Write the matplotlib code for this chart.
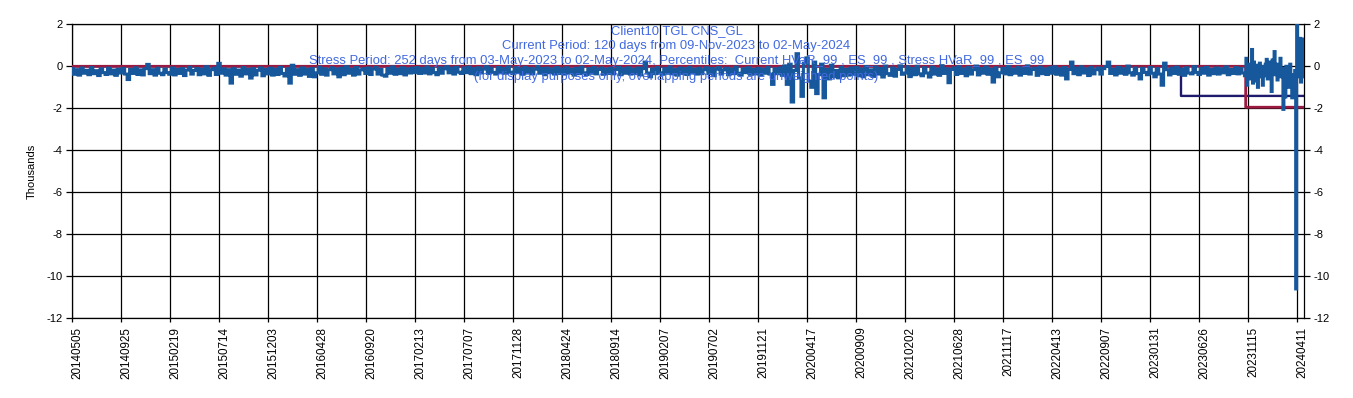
import numpy as np
import matplotlib
matplotlib.use('Agg')
import matplotlib.pyplot as plt
from matplotlib.transforms import ScaledTranslation

plt.rcParams['font.family'] = ['Liberation Sans', 'DejaVu Sans']
plt.rcParams['axes.unicode_minus'] = False

# ---------------- data ----------------
tick_labels = ['20140505', '20140925', '20150219', '20150714', '20151203', '20160428',
               '20160920', '20170213', '20170707', '20171128', '20180424', '20180914',
               '20190207', '20190702', '20191121', '20200417', '20200909', '20210202',
               '20210628', '20211117', '20220413', '20220907', '20230131', '20230626',
               '20231115', '20240411']
n_obs = 2515          # daily observations
tick_every = 100      # one category label every 100 observations

current_days = 120
stress_days = 252
current_hvar = -1.95  # thousands
stress_hvar = -1.41   # thousands

# daily P&L (thousands), sampled every 5th observation, 2014-05 .. 2016-09
pnl_2014_2016 = [
    -0.10, -0.38, -0.16, -0.42, -0.08, -0.33, -0.19, -0.40, -0.06, -0.35, -0.21, -0.44, -0.12, -0.30, -0.39, -0.09, -0.36, -0.18, -0.43, -0.14,
    -0.32, -0.10, -0.37, -0.63, -0.15, -0.34, -0.07, -0.39, -0.17, -0.41, -0.11, 0.09, -0.35, -0.16, -0.42, -0.09, -0.33, -0.40, -0.13, -0.30,
    -0.38, -0.08, -0.41, -0.15, -0.34, -0.11, -0.44, -0.18, -0.05, -0.37, -0.20, -0.10, -0.40, -0.14, -0.36, -0.02, -0.43, -0.16, -0.09, -0.39,
    0.14, -0.33, -0.12, -0.42, -0.16, -0.80, -0.10, -0.38, -0.18, -0.47, -0.06, -0.36, -0.15, -0.56, -0.11, -0.41, -0.19, -0.08, -0.45, -0.15,
    -0.36, -0.09, -0.42, -0.14, -0.39, -0.05, -0.34, -0.46, -0.12, -0.80, 0.05, -0.38, -0.16, -0.43, -0.08, -0.37, -0.14, -0.48, -0.11, -0.50,
    -0.31, -0.04, -0.38, -0.12, -0.42, -0.16, -0.07, -0.36, -0.13, -0.50, -0.09, -0.40, -0.02, -0.33, -0.14, -0.42, -0.06, -0.37, -0.17, -0.11,
]
# 2016-09 .. 2019-02
pnl_2016_2019 = [
    -0.34, -0.08, -0.39, -0.13, -0.05, -0.37, -0.15, -0.42, -0.47, -0.10, -0.33, -0.03, -0.38, -0.14, -0.35, -0.07, -0.41, -0.12, -0.32, -0.09,
    -0.30, -0.06, -0.34, -0.11, -0.32, -0.03, -0.36, -0.10, -0.30, -0.40, -0.07, -0.33, -0.12, -0.02, -0.31, -0.09, -0.37, -0.05, -0.28, -0.34,
    -0.08, -0.30, -0.04, -0.35, -0.11, -0.40, -0.07, -0.32, -0.13, -0.02, -0.34, -0.09, -0.29, -0.37, -0.06, -0.31, -0.11, -0.33, -0.03, -0.28,
    -0.35, -0.07, -0.30, -0.12, -0.38, -0.05, -0.32, -0.10, -0.36, -0.14, -0.01, -0.33, -0.11, -0.40, -0.08, -0.31, -0.13, -0.37, -0.06, -0.34,
    -0.12, -0.37, -0.07, -0.32, -0.14, -0.42, -0.09, -0.35, -0.04, -0.31, -0.39, -0.11, -0.33, -0.06, -0.36, -0.15, -0.08, -0.38, -0.13, -0.34,
    -0.09, -0.36, -0.15, -0.05, -0.40, -0.12, -0.33, -0.07, -0.37, -0.14, -0.34, -0.08, -0.41, -0.11, 0.20, -0.32, -0.50, -0.13, -0.35, -0.06,
]
# 2019-02 .. 2021-06
pnl_2019_2021 = [
    -0.31, -0.38, -0.10, -0.33, -0.03, -0.36, -0.15, -0.42, -0.08, -0.34, -0.12, -0.39, -0.05, -0.32, -0.14, -0.37, -0.09, -0.35, -0.16, -0.07,
    -0.34, -0.11, -0.45, -0.14, -0.06, -0.37, -0.17, -0.09, -0.40, -0.13, -0.35, -0.04, -0.33, -0.42, -0.12, -0.30, -0.07, -0.38, -0.15, -0.36,
    -0.10, -0.41, -0.14, -0.33, -0.05, -0.37, -0.86, -0.12, -0.35, -0.08, -0.43, 0.02, -0.86, 0.10, -1.70, -0.20, 0.60, -0.55, -1.43, 0.15,
    0.40, -0.70, -1.00, 0.20, -1.30, -0.40, 0.10, -1.50, -0.15, -0.60, 0.05, -0.50, -0.20, -0.55, -0.05, -0.45, -0.15, -0.42, -0.08, -0.38,
    -0.05, -0.45, -0.13, -0.50, -0.01, -0.40, -0.17, -0.48, -0.03, -0.37, -0.11, -0.51, 0.01, -0.35, -0.43, -0.08, -0.47, -0.15, 0.02, -0.38,
    -0.32, -0.02, -0.49, -0.11, -0.40, 0.00, -0.36, -0.45, -0.07, -0.32, -0.51, -0.04, -0.37, -0.13, -0.43, 0.03, -0.34, -0.12, -0.78, -0.15,
]
# 2021-06 .. 2023-11
pnl_2021_2023 = [
    -0.08, -0.39, -0.02, -0.34, -0.13, -0.45, -0.05, -0.37, -0.16, 0.01, -0.41, -0.11, -0.33, -0.03, -0.38, -0.14, -0.75, -0.07, -0.50, -0.31,
    -0.10, -0.36, -0.01, -0.40, -0.14, -0.33, -0.05, -0.42, -0.12, -0.34, 0.02, -0.37, -0.15, -0.09, -0.43, -0.04, -0.35, -0.13, -0.39, -0.07,
    -0.33, -0.03, -0.38, -0.12, -0.42, -0.06, -0.60, -0.15, 0.20, -0.35, -0.09, -0.40, -0.02, -0.32, -0.13, -0.44, -0.05, -0.36, -0.16, -0.08,
    -0.37, -0.11, -0.01, 0.20, -0.34, -0.14, -0.41, -0.05, -0.33, -0.12, -0.38, 0.01, -0.31, -0.42, -0.08, -0.35, -0.60, -0.10, -0.29, -0.40,
    -0.06, -0.33, -0.50, -0.11, -0.37, -0.90, 0.15, -0.16, -0.41, -0.09, -0.34, -0.04, -0.38, -0.13, -0.43, -0.07, -0.32, -0.36, -0.02, -0.29,
    -0.39, -0.10, -0.33, -0.05, -0.42, -0.14, -0.35, -0.08, -0.37, -0.12, -0.31, -0.03, -0.40, -0.15, -0.34, -0.06, -0.36, -0.11, -0.32, -0.45,
]
# current period, every 2nd observation, 2023-11 .. 2024-05
pnl_recent = [
    0.38, -0.90, -0.10, -0.60, 0.10, -0.40, 0.80, -0.80, 0.20, -0.30,
    -0.70, 0.05, -1.00, -0.20, 0.15, -0.50, -0.10, -0.90, 0.00, -0.45,
    0.10, 0.33, -0.60, -0.15, 0.20, -0.55, -1.20, 0.30, -0.30, 0.70,
    -0.40, 0.10, -0.65, 0.05, -0.30, 0.38, -0.50, -0.10, -2.05, -0.20,
    -1.46, 0.00, -0.80, -0.30, -1.00, 0.10, -0.60, -1.50, -0.40, -0.90,
    -0.20, -10.60, 2.10, -0.50, 0.80, 1.33, -0.75, 1.30, -0.50, 0.20,
]

title_lines = [
    'Client10 TGL CNS_GL',
    'Current Period: 120 days from 09-Nov-2023 to 02-May-2024',
    'Stress Period: 252 days from 03-May-2023 to 02-May-2024, Percentiles:  Current HVaR_99 , ES_99 , Stress HVaR_99 , ES_99',
    '(for display purposes only, overlapping periods are unweighted points)',
]

# ---------------- build ----------------
main_vals = pnl_2014_2016 + pnl_2016_2019 + pnl_2019_2021 + pnl_2021_2023
main_idx = np.arange(len(main_vals)) * 5
recent_idx = main_idx[-1] + 1 + np.arange(len(pnl_recent)) * 2
x_pnl = np.concatenate([main_idx, recent_idx])
y_pnl = np.array(main_vals + pnl_recent)

idx = np.arange(n_obs)
stress_series = np.where(idx >= n_obs - stress_days, stress_hvar, 0.0)
current_series = np.where(idx >= n_obs - current_days, current_hvar, 0.0)

W, H = 1353, 398
fig = plt.figure(figsize=(W / 100, H / 100), dpi=100)
L, R, T, B = 72, 1304, 24.3, 318.3
ax = fig.add_axes([L / W, 1 - B / H, (R - L) / W, (B - T) / H])

ax.plot(idx, stress_series, color='#1e1a6c', lw=1.7, drawstyle='steps-post', zorder=2)
ax.plot(idx, current_series, color='#9a1a42', lw=2.0, drawstyle='steps-post', zorder=3)
ax.plot(x_pnl, y_pnl, color='#16589b', lw=2.2, zorder=4, drawstyle='steps-mid',
        solid_joinstyle='miter', solid_capstyle='butt')

ax.set_xlim(0, n_obs - 1)
ax.set_ylim(-12, 2)
ax.set_yticks(np.arange(-12, 3, 2))
ax.set_yticklabels([str(v) for v in range(-12, 3, 2)])
ax.set_xticks(np.arange(len(tick_labels)) * tick_every)
ax.set_xticklabels(tick_labels, rotation=90, va='top', ha='center')

ax.set_axisbelow(True)
ax.grid(True, color='black', lw=0.9)
for s in ax.spines.values():
    s.set_color('black')
    s.set_linewidth(0.9)
ax.tick_params(axis='y', direction='out', length=4, width=0.9, labelsize=8,
               right=True, labelright=True, pad=3)
ax.tick_params(axis='x', direction='out', length=3, width=0.9, labelsize=8.4, pad=3)

offset = ScaledTranslation(5 / 100, 0, fig.dpi_scale_trans)
for lbl in ax.get_xticklabels():
    lbl.set_transform(lbl.get_transform() + offset)

ax.set_ylabel('Thousands', fontsize=8, va='center')
ax.yaxis.set_label_coords((32 - L) / (R - L), 0.5)

title_y = [31, 45.5, 61, 77]
for txt, yy in zip(title_lines, title_y):
    fig.text(0.5, 1 - yy / H, txt, ha='center', va='center', color='#4169e1',
             fontsize=9.4, zorder=10)

fig.savefig('out.png', dpi=100)
